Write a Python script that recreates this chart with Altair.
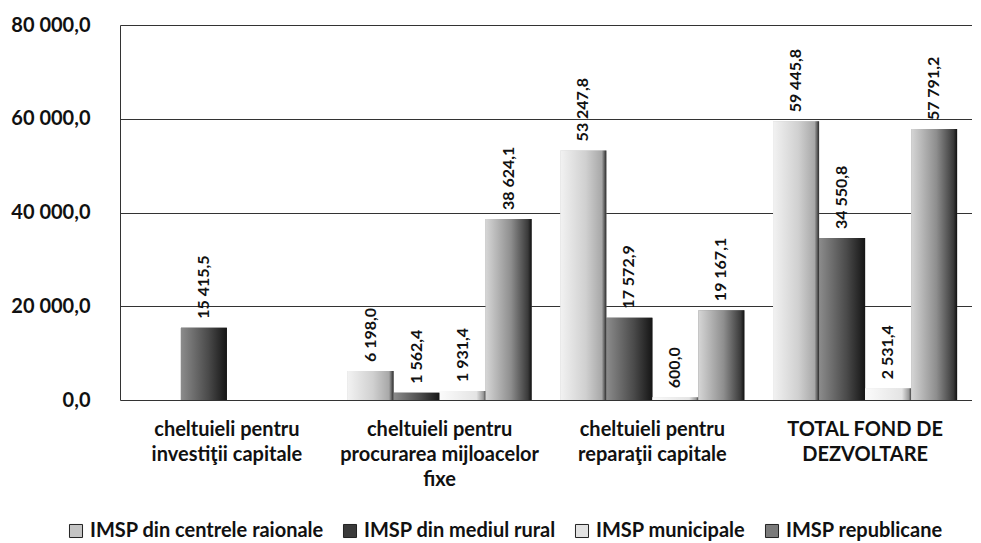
import altair as alt
import pandas as pd

categories = [
    "cheltuieli pentru\ninvestiţii capitale",
    "cheltuieli pentru\nprocurarea mijloacelor\nfixe",
    "cheltuieli pentru\nreparaţii capitale",
    "TOTAL  FOND DE\nDEZVOLTARE",
]
series = [
    "IMSP din centrele raionale",
    "IMSP din mediul rural",
    "IMSP municipale",
    "IMSP republicane",
]
centrele_raionale = [None, 6198.0, 53247.8, 59445.8]
mediul_rural = [15415.5, 1562.4, 17572.9, 34550.8]
municipale = [None, 1931.4, 600.0, 2531.4]
republicane = [None, 38624.1, 19167.1, 57791.2]
y_ticks = [0, 20000, 40000, 60000, 80000]


def fmt(v):
    s = f"{v:,.1f}"
    return s.replace(",", " ").replace(".", ",")


rows = []
for s, vals in zip(series, [centrele_raionale, mediul_rural, municipale, republicane]):
    for c, v in zip(categories, vals):
        if v is not None:
            rows.append({"category": c, "series": s, "value": v, "label": fmt(v)})
df = pd.DataFrame(rows)

FONT = "Lato"

# styles
solid = ["#c4c4c4", "#3a3a3a", "#e2e2e2", "#7a7a7a"]
grad_stops = [
    [("#f2f2f2", 0.0), ("#d0d0d0", 0.55), ("#a8a8a8", 0.9), ("#2a2a2a", 1.0)],
    [("#8c8c8c", 0.0), ("#4a4a4a", 0.6), ("#151515", 1.0)],
    [("#fbfbfb", 0.0), ("#e4e4e4", 0.8), ("#9a9a9a", 0.95), ("#444444", 1.0)],
    [("#d6d6d6", 0.0), ("#8e8e8e", 0.55), ("#3a3a3a", 0.92), ("#111111", 1.0)],
]

x_enc = alt.X(
    "category:N",
    sort=categories,
    scale=alt.Scale(domain=categories, paddingInner=0.135, paddingOuter=0.07),
    axis=alt.Axis(
        title=None,
        labelAngle=0,
        ticks=False,
        domain=False,
        labelExpr="split(datum.label, '\\n')",
        labelFont=FONT,
        labelFontSize=20,
        labelFontWeight="bold",
        labelLineHeight=25,
        labelPadding=19,
        labelColor="#111111",
        labelLimit=400,
    ),
)
xo_enc = alt.XOffset(
    "series:N", scale=alt.Scale(domain=series, paddingInner=0, paddingOuter=0)
)
y_enc = alt.Y(
    "value:Q",
    scale=alt.Scale(domain=[0, 80000], nice=False),
    axis=alt.Axis(
        title=None,
        values=y_ticks,
        ticks=False,
        grid=True,
        gridColor="#333333",
        gridWidth=1,
        domain=True,
        domainColor="#333333",
        labelExpr="replace(replace(format(datum.value, ',.1f'), ',', ' '), '.', ',')",
        labelFont=FONT,
        labelFontSize=20,
        labelFontWeight="bold",
        labelColor="#111111",
        labelPadding=30,
        minExtent=112,
        maxExtent=112,
    ),
)

base = alt.Chart(df).mark_bar().encode(
    x=x_enc,
    xOffset=xo_enc,
    y=y_enc,
    color=alt.Color(
        "series:N",
        scale=alt.Scale(domain=series, range=solid),
        legend=alt.Legend(
            title=None,
            orient="none",
            legendX=-54,
            legendY=496,
            direction="horizontal",
            symbolType="square",
            symbolSize=170,
            symbolStrokeColor="#222222",
            symbolStrokeWidth=1,
            labelFont=FONT,
            labelFontSize=20,
            labelFontWeight="bold",
            labelColor="#111111",
            labelLimit=400,
            columnPadding=16,
            labelOffset=4,
        ),
    ),
)

layers = [base]
for s, stops in zip(series, grad_stops):
    grad = {
        "gradient": "linear",
        "x1": 0,
        "x2": 1,
        "y1": 0,
        "y2": 0,
        "stops": [{"color": c, "offset": o} for c, o in stops],
    }
    layers.append(
        alt.Chart(df)
        .transform_filter(alt.datum.series == s)
        .mark_bar(color=grad)
        .encode(x=x_enc, xOffset=xo_enc, y=y_enc)
    )

text = alt.Chart(df).mark_text(
    angle=270,
    align="left",
    baseline="middle",
    dx=9,
    font=FONT,
    fontSize=16,
    fontWeight="bold",
    color="#111111",
).encode(x=x_enc, xOffset=xo_enc, y=y_enc, text="label:N")
layers.append(text)

chart = (
    alt.layer(*layers)
    .properties(
        width=852,
        height=375,
        padding={"left": 0, "top": 7, "right": 0, "bottom": 0},
        background="white",
    )
    .configure_view(stroke=None)
)

chart.save("out.html", embed_options={"renderer": "svg", "actions": False})
